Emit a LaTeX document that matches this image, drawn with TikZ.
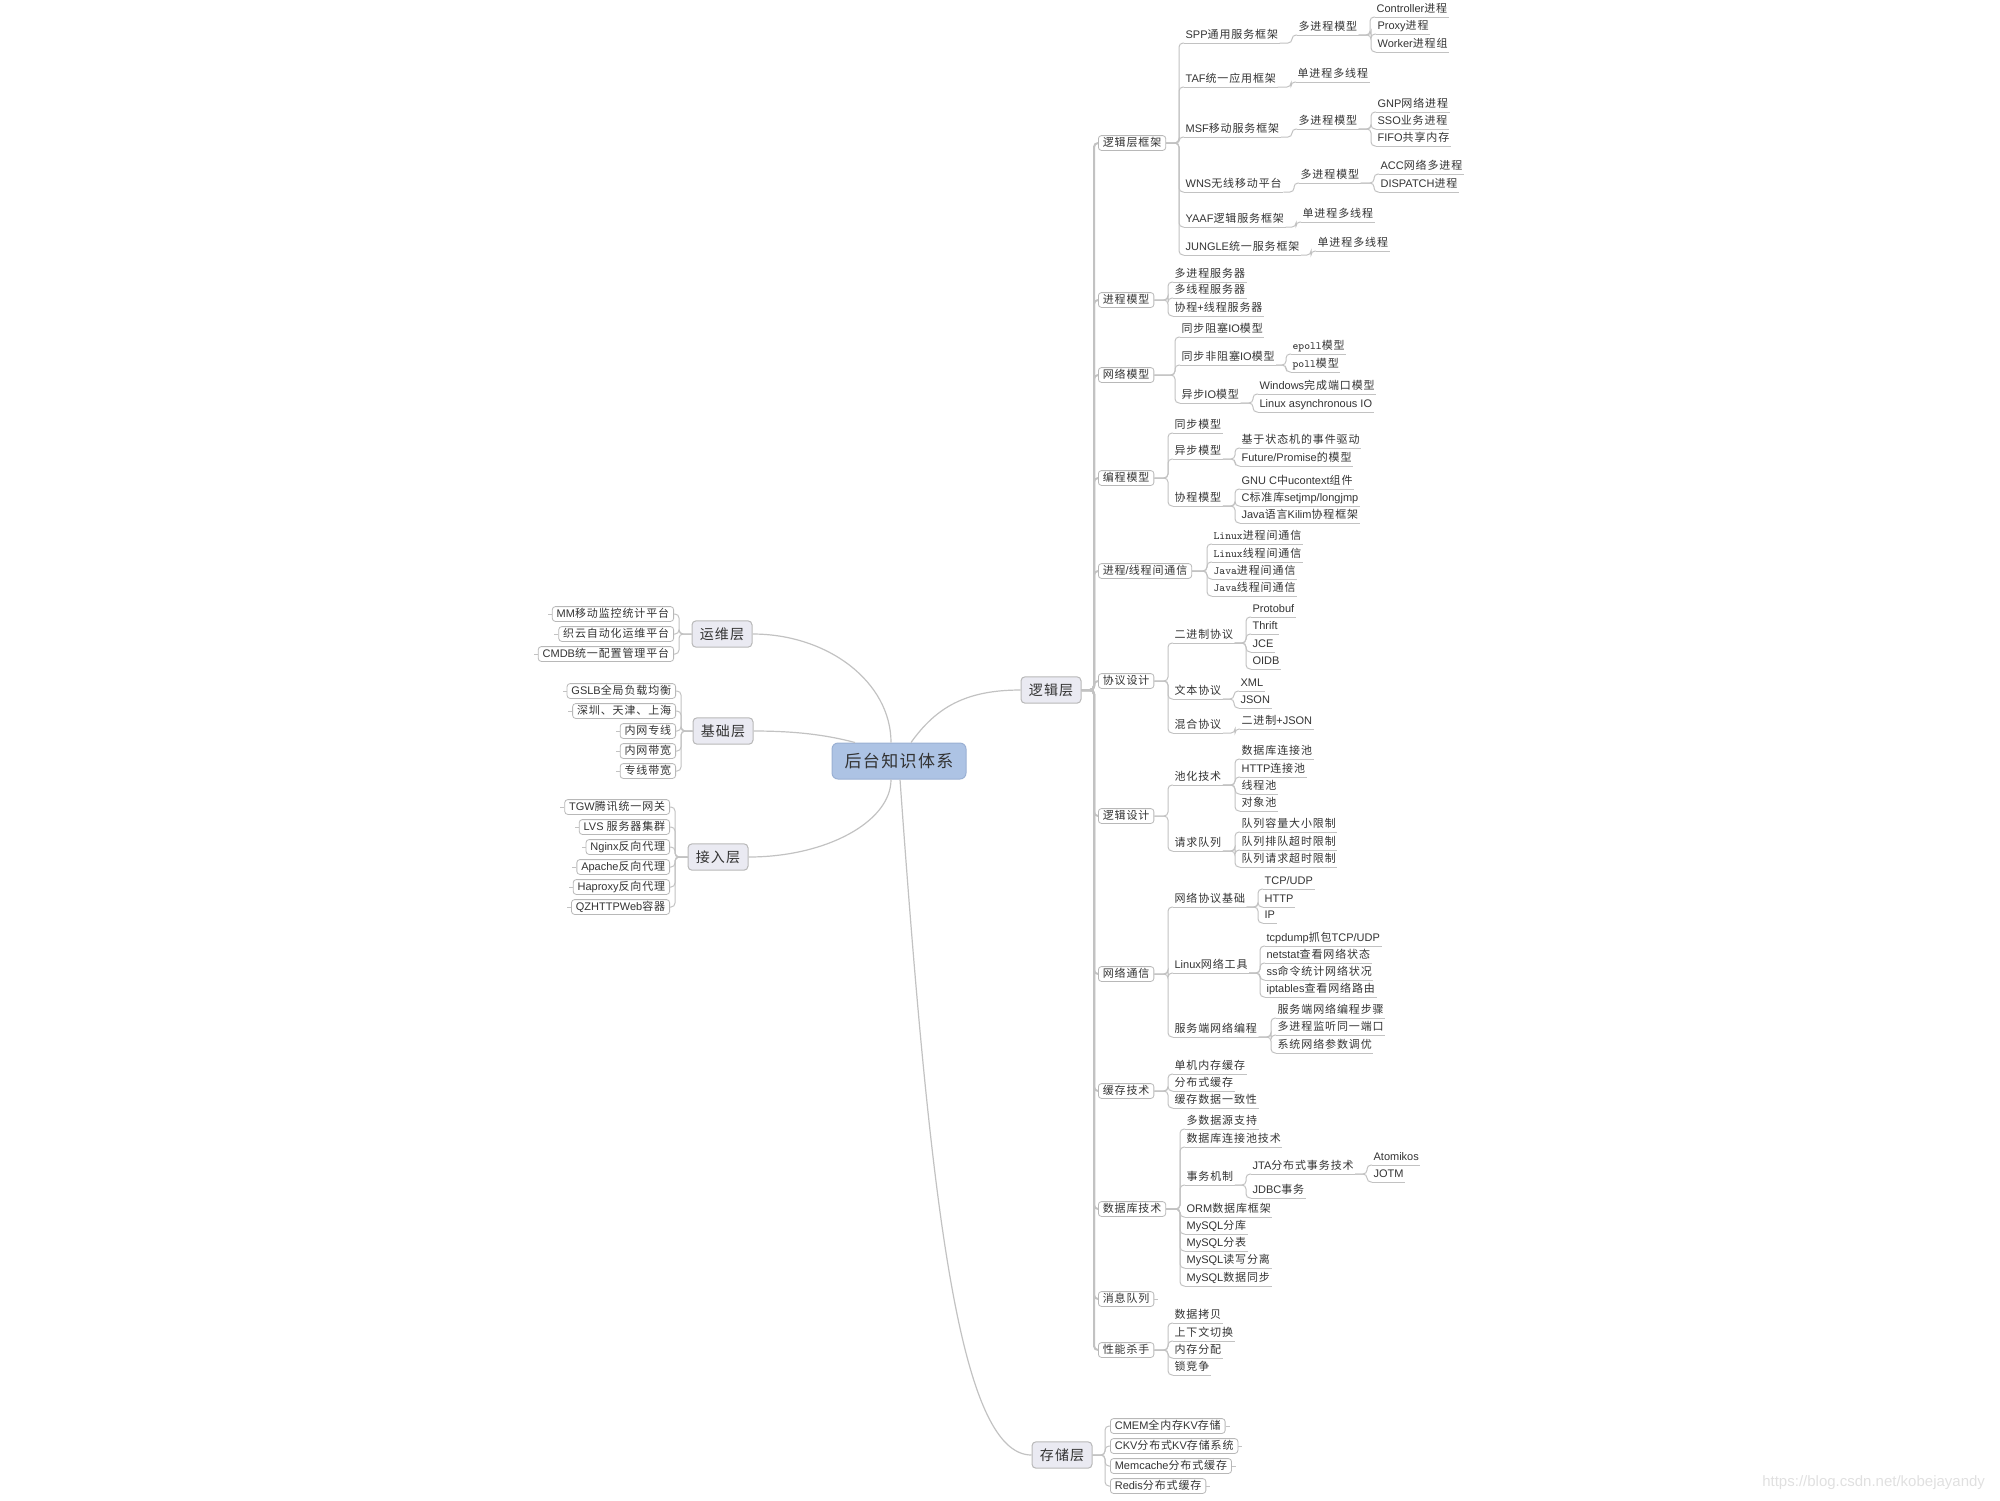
\documentclass[tikz,border=0pt]{standalone}
\usepackage{fontspec}
\setmainfont{Liberation Sans}
\newfontfamily\cjkfont{Noto Sans CJK SC}[LetterSpace=8]
% CJK runs switch to the CJK family
\XeTeXinterchartokenstate=1
\newXeTeXintercharclass\cjkcls
\newcount\cjkcnt
\cjkcnt="3000 \loop\XeTeXcharclass\cjkcnt=\cjkcls\advance\cjkcnt by 1 \ifnum\cjkcnt<"3040 \repeat
\cjkcnt="4E00 \loop\XeTeXcharclass\cjkcnt=\cjkcls\advance\cjkcnt by 1 \ifnum\cjkcnt<"A000 \repeat
\cjkcnt="FF00 \loop\XeTeXcharclass\cjkcnt=\cjkcls\advance\cjkcnt by 1 \ifnum\cjkcnt<"FFF0 \repeat
\XeTeXinterchartoks 0 \cjkcls = {\begingroup\cjkfont}
\XeTeXinterchartoks 4095 \cjkcls = {\begingroup\cjkfont}
\XeTeXinterchartoks \cjkcls 0 = {\endgroup}
\XeTeXinterchartoks \cjkcls 4095 = {\endgroup}
\usetikzlibrary{positioning}
\definecolor{linegray}{HTML}{C2C2C2}
\definecolor{boxgray}{HTML}{B8B8B8}
\definecolor{textgray}{HTML}{333333}
\definecolor{rootfill}{HTML}{ADC3E4}
\definecolor{rootdraw}{HTML}{9AB0D3}
\definecolor{topicfill}{HTML}{EAEAF2}
\newcommand{\leaffont}{\fontsize{5.5}{6.5}\selectfont}
\tikzset{
  root/.style={rectangle, rounded corners=3pt, fill=rootfill, draw=rootdraw, line width=0.5pt, minimum width=67pt, minimum height=18pt, font=\fontsize{8.5}{10}\selectfont, text=textgray},
  topic/.style={rectangle, rounded corners=2pt, fill=topicfill, draw=boxgray, line width=0.5pt, minimum width=30pt, minimum height=11.5pt, font=\fontsize{7}{8}\selectfont, text=textgray},
  subbox/.style={rectangle, rounded corners=1.5pt, fill=white, draw=boxgray, line width=0.4pt, text height=4.3pt, text depth=1.3pt, inner xsep=2.2pt, inner ysep=0.9pt, font=\leaffont, text=textgray},
  uline/.style={draw=linegray, line width=0.5pt},
  leaf/.style={anchor=south west, inner xsep=0.6pt, inner ysep=1pt, text height=4.3pt, text depth=1.3pt, font=\leaffont, text=textgray,
    append after command={(\tikzlastnode.south west) edge[uline] (\tikzlastnode.south east)}},
  link/.style={draw=linegray, line width=0.5pt, rounded corners=2pt},
  trunk/.style={link, line width=1pt},
  curve/.style={draw=linegray, line width=0.6pt}
}
% elbow connectors: to the right / to the left
\newcommand{\branchr}[2]{\draw[link] (#1) -| ([xshift=-2.5pt]#2) -- (#2);}
\newcommand{\branchl}[2]{\draw[link] (#1) -| ([xshift=2.5pt]#2) -- (#2);}
\begin{document}
\begin{tikzpicture}[x=0.5pt, y=-0.5pt]
  \useasboundingbox (0,0) rectangle (2000,1500);

  % centre
  \node[root] (root) at (899,761) {后台知识体系};
  \node[topic] (ops) at (722,634) {运维层};
  \node[topic] (base) at (723,731) {基础层};
  \node[topic] (acc) at (718,857) {接入层};
  \node[topic] (logic) at (1051,690) {逻辑层};
  \node[topic] (store) at (1062,1455) {存储层};
  \draw[curve] ([xshift=-4pt]root.north) .. controls +(0,-60) and +(76,0) .. (ops.east);
  \draw[curve] ([xshift=-22pt]root.north) .. controls +(-30,-8) and +(40,0) .. (base.east);
  \draw[curve] ([xshift=-4pt]root.south) .. controls +(0,42) and +(78,0) .. (acc.east);
  \draw[curve] ([xshift=6pt]root.north) .. controls +(25,-35) and +(-55,0) .. (logic.west);
  \draw[curve] ([xshift=0.5pt]root.south) .. controls +(30,420) and +(-73,0) .. (store.west);

  % left
  \node[subbox, anchor=east] (ops1) at (674,614) {MM移动监控统计平台};
  \node[subbox, anchor=east] (ops2) at (674,634) {织云自动化运维平台};
  \node[subbox, anchor=east] (ops3) at (674,654) {CMDB统一配置管理平台};
  \node[subbox, anchor=east] (base1) at (676,691) {GSLB全局负载均衡};
  \node[subbox, anchor=east] (base2) at (676,711) {深圳、天津、上海};
  \node[subbox, anchor=east] (base3) at (676,731) {内网专线};
  \node[subbox, anchor=east] (base4) at (676,751) {内网带宽};
  \node[subbox, anchor=east] (base5) at (676,771) {专线带宽};
  \node[subbox, anchor=east] (acc1) at (670,807) {TGW腾讯统一网关};
  \node[subbox, anchor=east] (acc2) at (670,827) {LVS 服务器集群};
  \node[subbox, anchor=east] (acc3) at (670,847) {Nginx反向代理};
  \node[subbox, anchor=east] (acc4) at (670,867) {Apache反向代理};
  \node[subbox, anchor=east] (acc5) at (670,887) {Haproxy反向代理};
  \node[subbox, anchor=east] (acc6) at (670,907) {QZHTTPWeb容器};
  \foreach \n in {ops1,ops2,ops3} {\branchl{ops.west}{\n.east} \draw[link] (\n.west) -- ++(-4,0);}
  \foreach \n in {base1,base2,base3,base4,base5} {\branchl{base.west}{\n.east} \draw[link] (\n.west) -- ++(-4,0);}
  \foreach \n in {acc1,acc2,acc3,acc4,acc5,acc6} {\branchl{acc.west}{\n.east} \draw[link] (\n.west) -- ++(-4,0);}

  % right: logic layer
  \node[subbox, anchor=west] (fw) at (1098,143) {逻辑层框架};
  \node[subbox, anchor=west] (pm) at (1098,300) {进程模型};
  \node[subbox, anchor=west] (nm) at (1098,375) {网络模型};
  \node[subbox, anchor=west] (cm) at (1098,478) {编程模型};
  \node[subbox, anchor=west] (ipc) at (1098,571) {进程/线程间通信};
  \node[subbox, anchor=west] (proto) at (1098,681) {协议设计};
  \node[subbox, anchor=west] (ld) at (1098,816) {逻辑设计};
  \node[subbox, anchor=west] (net) at (1098,974) {网络通信};
  \node[subbox, anchor=west] (cache) at (1098,1091) {缓存技术};
  \node[subbox, anchor=west] (db) at (1098,1209) {数据库技术};
  \node[subbox, anchor=west] (mq) at (1098,1299) {消息队列};
  \node[subbox, anchor=west] (perf) at (1098,1350) {性能杀手};
  \foreach \n in {fw,pm,nm,cm,ipc,proto,ld,net,cache,db,mq,perf}
    {\draw[trunk] (logic.east) -| ([xshift=-2pt]\n.west) -- (\n.west);}
  \draw[link] (mq.east) -- ++(4,0);

  % frameworks
  \node[leaf] (fw1) at (1184,43) {SPP通用服务框架};
  \node[leaf] (fw2) at (1184,87) {TAF统一应用框架};
  \node[leaf] (fw3) at (1184,137) {MSF移动服务框架};
  \node[leaf] (fw4) at (1184,192) {WNS无线移动平台};
  \node[leaf] (fw5) at (1184,227) {YAAF逻辑服务框架};
  \node[leaf] (fw6) at (1184,255) {JUNGLE统一服务框架};
  \foreach \n in {fw1,fw2,fw3,fw4,fw5,fw6} {\branchr{fw.east}{\n.south west}}
  \node[leaf] (fw1a) at (1297,35) {多进程模型};
  \node[leaf] (fw1a1) at (1375,17) {Controller进程};
  \node[leaf] (fw1a2) at (1376,34) {Proxy进程};
  \node[leaf] (fw1a3) at (1376,52) {Worker进程组};
  \node[leaf] (fw2a) at (1296,82) {单进程多线程};
  \node[leaf] (fw3a) at (1297,129) {多进程模型};
  \node[leaf] (fw3a1) at (1376,112) {GNP网络进程};
  \node[leaf] (fw3a2) at (1376,129) {SSO业务进程};
  \node[leaf] (fw3a3) at (1376,146) {FIFO共享内存};
  \node[leaf] (fw4a) at (1299,183) {多进程模型};
  \node[leaf] (fw4a1) at (1379,174) {ACC网络多进程};
  \node[leaf] (fw4a2) at (1379,192) {DISPATCH进程};
  \node[leaf] (fw5a) at (1301,222) {单进程多线程};
  \node[leaf] (fw6a) at (1316,251) {单进程多线程};
  \branchr{fw1.south east}{fw1a.south west}
  \branchr{fw2.south east}{fw2a.south west}
  \branchr{fw3.south east}{fw3a.south west}
  \branchr{fw4.south east}{fw4a.south west}
  \branchr{fw5.south east}{fw5a.south west}
  \branchr{fw6.south east}{fw6a.south west}
  \foreach \n in {fw1a1,fw1a2,fw1a3} {\branchr{fw1a.south east}{\n.south west}}
  \foreach \n in {fw3a1,fw3a2,fw3a3} {\branchr{fw3a.south east}{\n.south west}}
  \foreach \n in {fw4a1,fw4a2} {\branchr{fw4a.south east}{\n.south west}}

  % process / network / programming models
  \node[leaf] (pm1) at (1173,282) {多进程服务器};
  \node[leaf] (pm2) at (1173,298) {多线程服务器};
  \node[leaf] (pm3) at (1173,316) {协程+线程服务器};
  \foreach \n in {pm1,pm2,pm3} {\branchr{pm.east}{\n.south west}}
  \node[leaf] (nm1) at (1180,337) {同步阻塞IO模型};
  \node[leaf] (nm2) at (1180,365) {同步非阻塞IO模型};
  \node[leaf] (nm3) at (1180,403) {异步IO模型};
  \foreach \n in {nm1,nm2,nm3} {\branchr{nm.east}{\n.south west}}
  \node[leaf] (nm2a) at (1291,354) {{\ttfamily epoll}模型};
  \node[leaf] (nm2b) at (1291,372) {{\ttfamily poll}模型};
  \node[leaf] (nm3a) at (1258,394) {Windows完成端口模型};
  \node[leaf] (nm3b) at (1258,412) {Linux asynchronous IO};
  \foreach \n in {nm2a,nm2b} {\branchr{nm2.south east}{\n.south west}}
  \foreach \n in {nm3a,nm3b} {\branchr{nm3.south east}{\n.south west}}
  \node[leaf] (cm1) at (1173,433) {同步模型};
  \node[leaf] (cm2) at (1173,459) {异步模型};
  \node[leaf] (cm3) at (1173,506) {协程模型};
  \foreach \n in {cm1,cm2,cm3} {\branchr{cm.east}{\n.south west}}
  \node[leaf] (cm2a) at (1240,448) {基于状态机的事件驱动};
  \node[leaf] (cm2b) at (1240,466) {Future/Promise的模型};
  \node[leaf] (cm3a) at (1240,489) {GNU C中ucontext组件};
  \node[leaf] (cm3b) at (1240,506) {C标准库setjmp/longjmp};
  \node[leaf] (cm3c) at (1240,523) {Java语言Kilim协程框架};
  \foreach \n in {cm2a,cm2b} {\branchr{cm2.south east}{\n.south west}}
  \foreach \n in {cm3a,cm3b,cm3c} {\branchr{cm3.south east}{\n.south west}}

  % communication / protocols / logic design
  \node[leaf] (ipc1) at (1212,544) {{\ttfamily Linux}进程间通信};
  \node[leaf] (ipc2) at (1212,562) {{\ttfamily Linux}线程间通信};
  \node[leaf] (ipc3) at (1212,579) {{\ttfamily Java}进程间通信};
  \node[leaf] (ipc4) at (1212,596) {{\ttfamily Java}线程间通信};
  \foreach \n in {ipc1,ipc2,ipc3,ipc4} {\branchr{ipc.east}{\n.south west}}
  \node[leaf] (proto1) at (1173,643) {二进制协议};
  \node[leaf] (proto2) at (1173,699) {文本协议};
  \node[leaf] (proto3) at (1173,733) {混合协议};
  \foreach \n in {proto1,proto2,proto3} {\branchr{proto.east}{\n.south west}}
  \node[leaf] (proto1a) at (1251,617) {Protobuf};
  \node[leaf] (proto1b) at (1251,634) {Thrift};
  \node[leaf] (proto1c) at (1251,652) {JCE};
  \node[leaf] (proto1d) at (1251,669) {OIDB};
  \node[leaf] (proto2a) at (1239,691) {XML};
  \node[leaf] (proto2b) at (1239,708) {JSON};
  \node[leaf] (proto3a) at (1240,729) {二进制+JSON};
  \foreach \n in {proto1a,proto1b,proto1c,proto1d} {\branchr{proto1.south east}{\n.south west}}
  \foreach \n in {proto2a,proto2b} {\branchr{proto2.south east}{\n.south west}}
  \branchr{proto3.south east}{proto3a.south west}
  \node[leaf] (ld1) at (1173,785) {池化技术};
  \node[leaf] (ld2) at (1173,851) {请求队列};
  \foreach \n in {ld1,ld2} {\branchr{ld.east}{\n.south west}}
  \node[leaf] (ld1a) at (1240,759) {数据库连接池};
  \node[leaf] (ld1b) at (1240,777) {HTTP连接池};
  \node[leaf] (ld1c) at (1240,794) {线程池};
  \node[leaf] (ld1d) at (1240,811) {对象池};
  \node[leaf] (ld2a) at (1240,832) {队列容量大小限制};
  \node[leaf] (ld2b) at (1240,850) {队列排队超时限制};
  \node[leaf] (ld2c) at (1240,867) {队列请求超时限制};
  \foreach \n in {ld1a,ld1b,ld1c,ld1d} {\branchr{ld1.south east}{\n.south west}}
  \foreach \n in {ld2a,ld2b,ld2c} {\branchr{ld2.south east}{\n.south west}}

  % network / cache
  \node[leaf] (net1) at (1173,907) {网络协议基础};
  \node[leaf] (net2) at (1173,973) {Linux网络工具};
  \node[leaf] (net3) at (1173,1037) {服务端网络编程};
  \foreach \n in {net1,net2,net3} {\branchr{net.east}{\n.south west}}
  \node[leaf] (net1a) at (1263,889) {TCP/UDP};
  \node[leaf] (net1b) at (1263,907) {HTTP};
  \node[leaf] (net1c) at (1263,923) {IP};
  \node[leaf] (net2a) at (1265,946) {tcpdump抓包TCP/UDP};
  \node[leaf] (net2b) at (1265,963) {netstat查看网络状态};
  \node[leaf] (net2c) at (1265,980) {ss命令统计网络状况};
  \node[leaf] (net2d) at (1265,997) {iptables查看网络路由};
  \node[leaf] (net3a) at (1276,1018) {服务端网络编程步骤};
  \node[leaf] (net3b) at (1276,1035) {多进程监听同一端口};
  \node[leaf] (net3c) at (1276,1053) {系统网络参数调优};
  \foreach \n in {net1a,net1b,net1c} {\branchr{net1.south east}{\n.south west}}
  \foreach \n in {net2a,net2b,net2c,net2d} {\branchr{net2.south east}{\n.south west}}
  \foreach \n in {net3a,net3b,net3c} {\branchr{net3.south east}{\n.south west}}
  \node[leaf] (cache1) at (1173,1074) {单机内存缓存};
  \node[leaf] (cache2) at (1173,1091) {分布式缓存};
  \node[leaf] (cache3) at (1173,1108) {缓存数据一致性};
  \foreach \n in {cache1,cache2,cache3} {\branchr{cache.east}{\n.south west}}

  % database / performance
  \node[leaf] (db1) at (1185,1129) {多数据源支持};
  \node[leaf] (db2) at (1185,1147) {数据库连接池技术};
  \node[leaf] (db3) at (1185,1185) {事务机制};
  \node[leaf] (db4) at (1185,1217) {ORM数据库框架};
  \node[leaf] (db5) at (1185,1234) {MySQL分库};
  \node[leaf] (db6) at (1185,1251) {MySQL分表};
  \node[leaf] (db7) at (1185,1268) {MySQL读写分离};
  \node[leaf] (db8) at (1185,1286) {MySQL数据同步};
  \foreach \n in {db1,db2,db3,db4,db5,db6,db7,db8} {\branchr{db.east}{\n.south west}}
  \node[leaf] (db3a) at (1251,1174) {JTA分布式事务技术};
  \node[leaf] (db3b) at (1251,1198) {JDBC事务};
  \foreach \n in {db3a,db3b} {\branchr{db3.south east}{\n.south west}}
  \node[leaf] (db3a1) at (1372,1165) {Atomikos};
  \node[leaf] (db3a2) at (1372,1182) {JOTM};
  \foreach \n in {db3a1,db3a2} {\branchr{db3a.south east}{\n.south west}}
  \node[leaf] (perf1) at (1173,1323) {数据拷贝};
  \node[leaf] (perf2) at (1173,1341) {上下文切换};
  \node[leaf] (perf3) at (1173,1358) {内存分配};
  \node[leaf] (perf4) at (1173,1375) {锁竞争};
  \foreach \n in {perf1,perf2,perf3,perf4} {\branchr{perf.east}{\n.south west}}

  % storage layer
  \node[subbox, anchor=west] (st1) at (1110,1426) {CMEM全内存KV存储};
  \node[subbox, anchor=west] (st2) at (1110,1446) {CKV分布式KV存储系统};
  \node[subbox, anchor=west] (st3) at (1110,1466) {Memcache分布式缓存};
  \node[subbox, anchor=west] (st4) at (1110,1486) {Redis分布式缓存};
  \foreach \n in {st1,st2,st3,st4} {\branchr{store.east}{\n.west} \draw[link] (\n.east) -- ++(4,0);}

  \node[anchor=east, text=black!12, font=\fontsize{7.5}{9}\selectfont] (mark) at (1992,1483) {https://blog.csdn.net/kobejayandy};
\end{tikzpicture}
\end{document}
